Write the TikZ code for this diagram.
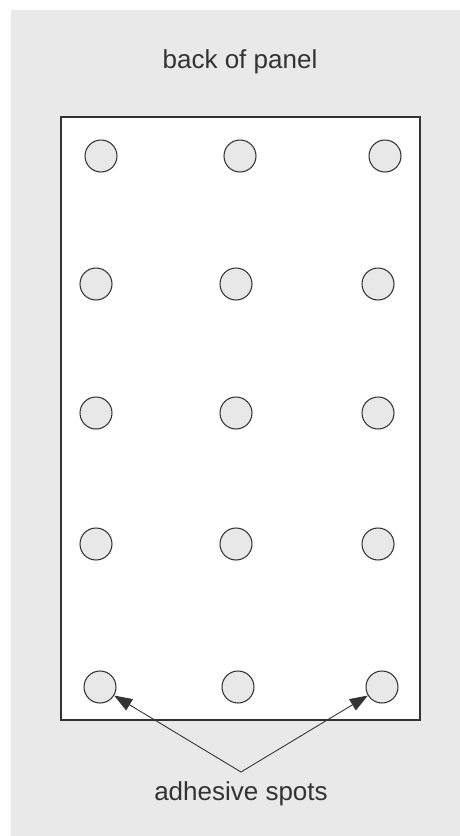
\documentclass[tikz,border=0pt]{standalone}
\usepackage{fontspec}
\setmainfont{Liberation Sans}
\usetikzlibrary{arrows.meta,positioning,calc}
\definecolor{panelgray}{RGB}{233,233,233}
\definecolor{inkgray}{RGB}{51,51,51}
\definecolor{spotgray}{RGB}{232,232,232}

\begin{document}
\begin{tikzpicture}[x=0.02cm,y=-0.02cm,
spot/.style={circle,draw=inkgray,line width=0.6pt,fill=spotgray,minimum size=0.64cm,inner sep=0pt},
panel/.style={draw=inkgray,line width=1.1pt,fill=white},
label/.style={text=inkgray,font=\fontsize{14.8}{18}\selectfont},
pointer/.style={draw=inkgray,line width=0.5pt,-{Triangle[length=3.6mm,width=2.6mm]}}]
\useasboundingbox (0,0) rectangle (460,836);
\fill[panelgray] (11,10) rectangle (460,836);
% Titolo
\node[label] (title) at (240,62) {back of panel};
% Pannello
\draw[panel] (61,117) rectangle (420,720);
% Punti adesivi
\foreach \r/\y/\xa/\xb/\xc in {1/156/101/240/385,2/284/96/236/378,3/413/96/236/378,4/544/96/236/378,5/687/100/238/382}{
  \node[spot] (s\r a) at (\xa,\y) {};
  \node[spot] (s\r b) at (\xb,\y) {};
  \node[spot] (s\r c) at (\xc,\y) {};
}
% Etichetta e frecce
\coordinate (apex) at (241,772);
\node[label] (glue) at (241,794) {adhesive spots};
\draw[pointer] (apex) -- (s5a);
\draw[pointer] (apex) -- (s5c);
\end{tikzpicture}
\end{document}
